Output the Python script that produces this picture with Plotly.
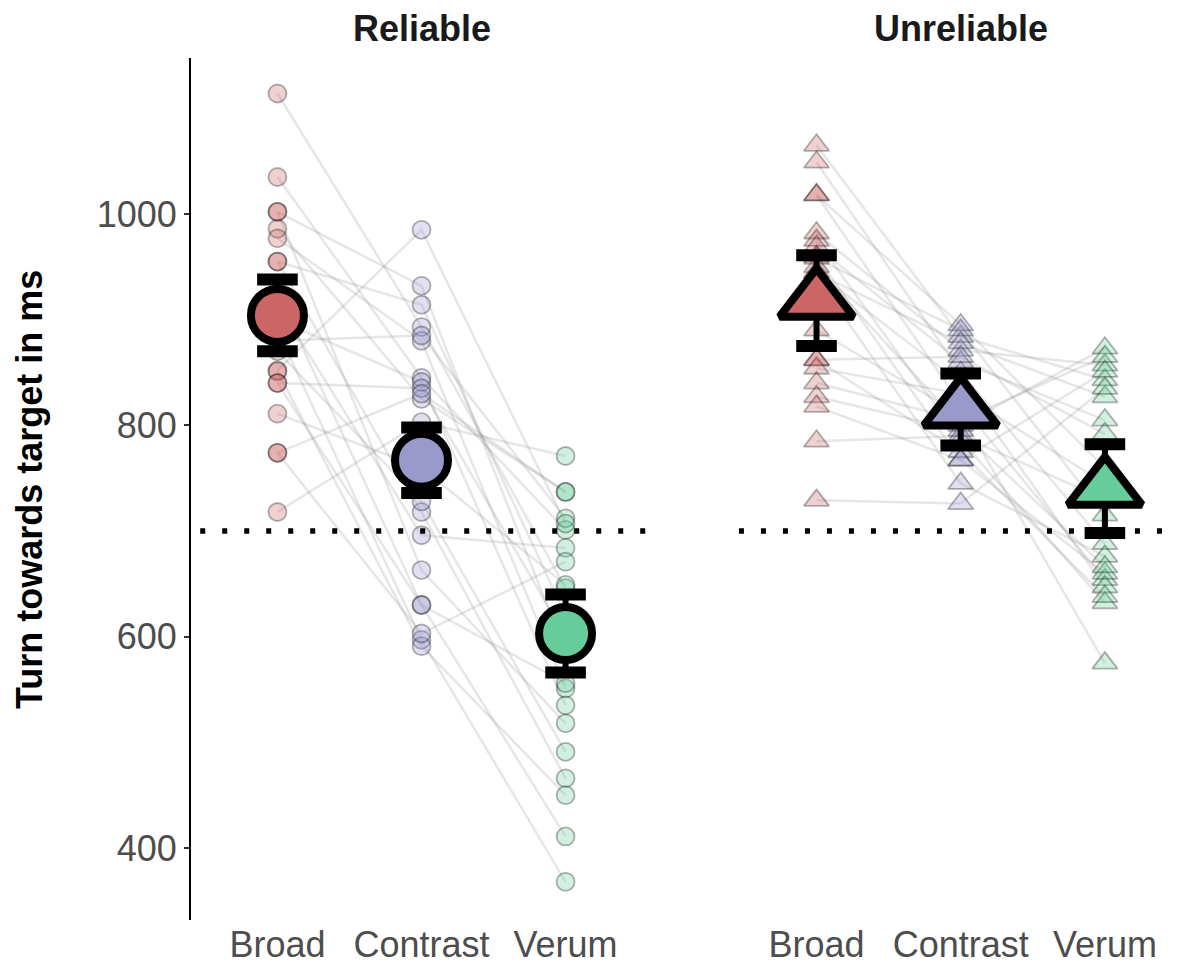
import plotly.graph_objects as go

# ---- data -------------------------------------------------------------
conditions = ["Broad", "Contrast", "Verum"]
panels = ["Reliable", "Unreliable"]

# per-participant turn latencies (ms), same participant order across conditions
reliable_broad = [1114, 1035, 1002, 1002, 986, 977, 955, 955, 925, 915, 900,
                  890, 880, 870, 852, 851, 840, 840, 811, 774, 774, 718]
reliable_contrast = [893, 845, 932, 663, 825, 880, 718, 914, 630, 696, 841,
                     597, 885, 728, 985, 591, 835, 630, 760, 830, 603, 803]
reliable_verum = [646, 701, 585, 518, 737, 551, 466, 620, 411, 684, 535,
                  368, 712, 491, 707, 450, 600, 556, 649, 737, 671, 771]

unreliable_broad = [1065, 1049, 1018, 1018, 982, 975, 969, 960, 958, 950, 945,
                    940, 944, 890, 862, 862, 854, 840, 827, 818, 785, 729]
unreliable_contrast = [884, 850, 895, 820, 871, 786, 860, 767, 890, 800, 840,
                       745, 878, 810, 865, 775, 830, 805, 795, 767, 790, 726]
unreliable_verum = [843, 688, 760, 654, 857, 632, 805, 660, 715, 873, 647,
                    676, 827, 575, 792, 638, 745, 865, 666, 851, 730, 835]

# condition means and error-bar half widths
mean_reliable = [904, 767, 603]
err_reliable = [34, 31, 37]
mean_unreliable = [918, 815, 740]
err_unreliable = [43, 34, 42]

y_ticks = [400, 600, 800, 1000]
chance_level = 700

# ---- styling ----------------------------------------------------------
fill_colors = ["#CC6666", "#9999CC", "#66CC99"]
fill_faint = ["rgba(204,102,102,0.3)", "rgba(153,153,204,0.3)", "rgba(102,204,153,0.3)"]
FONT = "Liberation Sans, Arial, sans-serif"

W, H = 1177, 968

panel_data = {
    "Reliable": dict(values=[reliable_broad, reliable_contrast, reliable_verum],
                     mean=mean_reliable, err=err_reliable,
                     symbol="circle", small=18, big=53,
                     xa="x", ya="y"),
    "Unreliable": dict(values=[unreliable_broad, unreliable_contrast, unreliable_verum],
                       mean=mean_unreliable, err=err_unreliable,
                       symbol="triangle-up", small=22, big=64,
                       xa="x2", ya="y2"),
}

fig = go.Figure()

for name in panels:
    p = panel_data[name]
    vals = p["values"]
    n = len(vals[0])

    # paired participant lines
    lx, ly = [], []
    for i in range(n):
        for c, cond in enumerate(conditions):
            lx.append(cond)
            ly.append(vals[c][i])
        lx.append(None)
        ly.append(None)
    fig.add_trace(go.Scatter(
        x=lx, y=ly, mode="lines", xaxis=p["xa"], yaxis=p["ya"],
        line=dict(color="rgba(128,128,128,0.2)", width=2.5),
        hoverinfo="skip", showlegend=False, connectgaps=False))

    # individual participant points
    for c, cond in enumerate(conditions):
        fig.add_trace(go.Scatter(
            x=[cond] * n, y=vals[c], mode="markers",
            xaxis=p["xa"], yaxis=p["ya"],
            marker=dict(symbol=p["symbol"], size=p["small"], color=fill_faint[c],
                        line=dict(color="rgba(0,0,0,0.3)", width=1.8)),
            showlegend=False))

    # error bars
    fig.add_trace(go.Scatter(
        x=conditions, y=p["mean"], mode="markers",
        xaxis=p["xa"], yaxis=p["ya"],
        marker=dict(size=1, color="rgba(0,0,0,0)"),
        error_y=dict(type="data", array=p["err"], visible=True,
                     color="black", thickness=6, width=14),
        showlegend=False, hoverinfo="skip"))
    # thick caps
    cap_y = [m + e for m, e in zip(p["mean"], p["err"])] + \
            [m - e for m, e in zip(p["mean"], p["err"])]
    fig.add_trace(go.Scatter(
        x=conditions * 2, y=cap_y, mode="markers",
        xaxis=p["xa"], yaxis=p["ya"],
        marker=dict(symbol="line-ew", size=29, color="black",
                    line=dict(color="black", width=12)),
        showlegend=False, hoverinfo="skip"))

    # condition means
    fig.add_trace(go.Scatter(
        x=conditions, y=p["mean"], mode="markers",
        xaxis=p["xa"], yaxis=p["ya"],
        marker=dict(symbol=p["symbol"], size=p["big"], color=fill_colors,
                    line=dict(color="black", width=8)),
        showlegend=False))

y_range = [331.9, 1147.6]
y_dom = [48 / H, 910 / H]

xaxis_common = dict(type="category", categoryorder="array", categoryarray=conditions,
                    showline=False, ticks="", showgrid=False, zeroline=False,
                    tickfont=dict(family=FONT, size=36, color="#4D4D4D"))

fig.update_layout(
    width=W, height=H,
    margin=dict(l=0, r=0, t=0, b=0),
    paper_bgcolor="white", plot_bgcolor="white",
    showlegend=False,
    xaxis=dict(domain=[191 / W, 652 / W], range=[-0.6, 2.6], anchor="y", **xaxis_common),
    xaxis2=dict(domain=[730 / W, 1.0], range=[-0.6, 2.5], anchor="y2", **xaxis_common),
    yaxis=dict(domain=y_dom, range=y_range, anchor="x",
               tickvals=y_ticks, ticktext=[str(v) for v in y_ticks],
               showline=True, linecolor="black", linewidth=2,
               ticks="outside", ticklen=5, tickwidth=2, tickcolor="#333333",
               showgrid=False, zeroline=False,
               tickfont=dict(family=FONT, size=36, color="#4D4D4D")),
    yaxis2=dict(domain=y_dom, range=y_range, anchor="x2", matches="y",
                showline=False, showticklabels=False, ticks="",
                showgrid=False, zeroline=False),
)

# chance-level reference lines
for xr, yr in [("x domain", "y"), ("x2 domain", "y2")]:
    fig.add_shape(type="line", xref=xr, yref=yr, x0=0.02, x1=1,
                  y0=chance_level, y1=chance_level, layer="above",
                  line=dict(color="black", width=5.5, dash="5px,17px"))

# facet strip titles
for name, xr in [("Reliable", "x"), ("Unreliable", "x2")]:
    fig.add_annotation(text=f"<b>{name}</b>", xref=xr, x=1, yref="paper", y=(H - 28) / H,
                       yanchor="middle", xanchor="center", showarrow=False,
                       font=dict(family=FONT, size=36, color="#1A1A1A"))

# y-axis title
fig.add_annotation(text="<b>Turn towards target in ms</b>", textangle=-90,
                   xref="paper", x=29 / W, yref="paper", y=(H - 490) / H,
                   xanchor="center", yanchor="middle", showarrow=False,
                   font=dict(family=FONT, size=36, color="black"))

fig.write_html("out.html")
